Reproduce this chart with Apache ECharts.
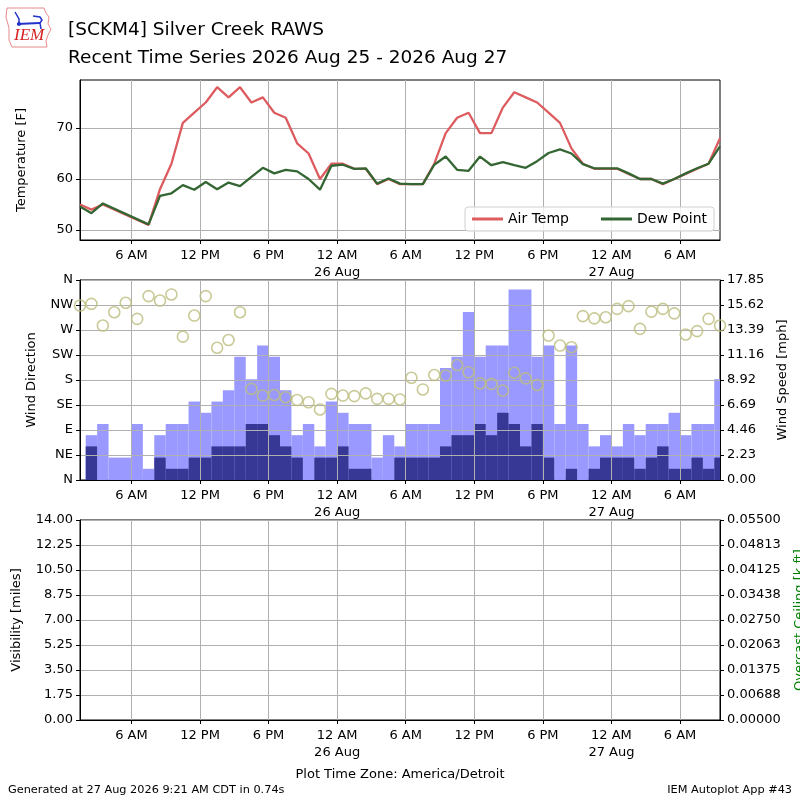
<!DOCTYPE html>
<html><head><meta charset="utf-8">
<script src="https://cdn.jsdelivr.net/npm/echarts@6/dist/echarts.min.js"></script>
<style>html,body{margin:0;padding:0;background:#fff}#c{width:800px;height:800px}</style>
</head><body><div id="c"></div>
<script>
// hours since 2026-08-25 00:00 (America/Detroit)
const obsHours = [1.5,2.5,3.5,4.5,5.5,6.5,7.5,8.5,9.5,10.5,11.5,12.5,13.5,14.5,15.5,16.5,17.5,18.5,19.5,20.5,
  21.5,22.5,23.5,24.5,25.5,26.5,27.5,28.5,29.5,30.5,31.5,32.5,33.5,34.5,35.5,36.5,37.5,38.5,39.5,40.5,
  41.5,42.5,43.5,44.5,45.5,46.5,47.5,48.5,49.5,50.5,51.5,52.5,53.5,54.5,55.5,56.5,57.5];
const airTemp = [55,54,55,null,null,null,51,58,63,71,73,75,78,76,78,75,76,73,72,67,
  65,60,63,63,62,62,59,60,59,59,59,63,69,72,73,69,69,74,77,76,
  75,73,71,66,63,62,62,62,61,60,60,59,60,61,62,63,68];
const dewPoint = [54.6,53.3,55.2,null,null,null,51.1,56.7,57.2,58.8,57.9,59.4,58.0,59.3,58.6,60.4,62.2,61.1,61.8,61.5,
  60.0,57.9,62.6,62.8,62.0,62.1,59.1,60.1,59.1,59.0,59.0,62.8,64.4,61.8,61.6,64.4,62.7,63.3,62.7,62.2,
  63.5,65.1,65.8,65.0,62.9,62.1,62.1,62.1,61.1,60.0,60.0,59.1,60.0,61.1,62.1,63.0,66.4];
const windDir = [314,317,278,302,319,290,331,323,334,258,296,331,238,252,302,164,152,153,149,144,
  140,127,155,152,151,156,146,146,145,184,163,189,188,207,194,174,173,161,193,183,
  171,260,242,239,295,291,293,308,313,272,303,308,300,262,268,290,278];
const windSpeed = [0,3,0,0,0,0,0,2,1,1,2,2,3,3,3,5,5,4,3,2,
  0,2,2,3,1,1,0,0,2,2,2,2,3,4,4,5,4,6,5,3,
  5,2,0,1,0,1,2,2,2,1,2,3,1,1,2,1,2];
const windGust = [0,4,5,2,2,5,1,4,5,5,7,6,7,8,11,9,12,11,8,4,
  5,3,7,6,5,5,2,4,3,5,5,5,10,11,15,11,12,12,17,17,
  11,12,5,12,5,3,4,3,5,4,5,5,6,4,5,5,9];
// no visibility / ceiling reports in this period
const visibility = obsHours.map(() => null);
const xTickHours = [6,12,18,24,30,36,42,48,54];
const xTickLabels = ['6 AM','12 PM','6 PM','12 AM\n26 Aug','6 AM','12 PM','6 PM','12 AM\n27 Aug','6 AM'];
const tempTicks = [50,60,70];
const dirTickLabels = ['N','NE','E','SE','S','SW','W','NW','N'];
const speedTickLabels = ['0.00','2.23','4.46','6.69','8.92','11.16','13.39','15.62','17.85'];
const visTickLabels = ['0.00','1.75','3.50','5.25','7.00','8.75','10.50','12.25','14.00'];
const ceilTickLabels = ['0.00000','0.00688','0.01375','0.02063','0.02750','0.03438','0.04125','0.04813','0.05500'];

const F = 'DejaVu Sans';
const GRIDC = '#b0b0b0';
const chart = echarts.init(document.getElementById('c'), null, {renderer:'canvas'});

function xAx(gi){
  return {type:'value', gridIndex:gi, min:1.5, max:57.5, z:3,
    axisLine:{show:true, onZero:false, lineStyle:{color:'#000', width:1}},
    axisTick:{show:true, customValues:xTickHours, length:4, lineStyle:{color:'#000'}},
    axisLabel:{customValues:xTickHours, formatter:v=>{const i=xTickHours.indexOf(v);return i>=0?xTickLabels[i]:'';},
      color:'#000', fontSize:13, fontFamily:F, margin:7, lineHeight:17},
    splitLine:{show:true, lineStyle:{color:GRIDC, width:1}}};
}
function yAx(o){
  return Object.assign({type:'value', z:3,
    axisLine:{show:true, onZero:false, lineStyle:{color:'#000', width:1}},
    axisTick:{show:true, length:4, lineStyle:{color:'#000'}},
    nameLocation:'middle', nameRotate:90,
    nameTextStyle:{color:'#000', fontSize:13, fontFamily:F}
  }, o);
}
function lbl(o){ return Object.assign({color:'#000', fontSize:13, fontFamily:F, margin:7}, o); }

function barItem(color){
  return function(params, api){
    const t = api.value(0), v = api.value(1);
    if (!v) return null;
    const p1 = api.coord([t-0.5, v]);
    const p0 = api.coord([t+0.5, 0]);
    const cs = params.coordSys;
    const r = echarts.graphic.clipRectByRect(
      {x:p1[0], y:p1[1], width:p0[0]-p1[0], height:p0[1]-p1[1]},
      {x:cs.x, y:cs.y, width:cs.width, height:cs.height});
    return r && {type:'rect', shape:r, style:{fill:color}};
  };
}
const pairs = arr => obsHours.map((t,i)=>[t, arr[i]]).filter(p=>p[1]!==null);
const gridBase = {left:80, width:640, show:true, borderColor:'#000', borderWidth:1, backgroundColor:'transparent',
  containLabel:false, outerBoundsMode:'none'};

const option = {
  animation:false,
  backgroundColor:'#fff',
  title:{text:'[SCKM4] Silver Creek RAWS\nRecent Time Series 2026 Aug 25 - 2026 Aug 27', left:68, top:16, padding:0,
    textStyle:{fontFamily:F, fontSize:18.5, fontWeight:'normal', color:'#000', lineHeight:28}},
  legend:{data:['Air Temp','Dew Point'], left:465, top:207, icon:'rect', itemWidth:31, itemHeight:3, itemGap:32,
    padding:[5,7], borderColor:'#d0d0d0', borderWidth:1, borderRadius:3, backgroundColor:'rgba(255,255,255,0.8)',
    textStyle:{fontFamily:F, fontSize:14, color:'#000'}},
  grid:[
    Object.assign({top:80, height:160}, gridBase),
    Object.assign({top:280, height:200}, gridBase),
    Object.assign({top:520, height:200}, gridBase)
  ],
  xAxis:[xAx(0), xAx(1), xAx(2)],
  yAxis:[
    yAx({gridIndex:0, min:48.04, max:79.41, name:'Temperature [F]', nameGap:52,
      axisTick:{show:true, customValues:tempTicks, length:4, lineStyle:{color:'#000'}},
      axisLabel:lbl({customValues:tempTicks}),
      splitLine:{show:true, lineStyle:{color:GRIDC, width:1}}}),
    yAx({gridIndex:1, min:0, max:360, interval:45, name:'Wind Direction', nameGap:42,
      axisLabel:lbl({formatter:v=>dirTickLabels[Math.round(v/45)]}),
      splitLine:{show:true, lineStyle:{color:GRIDC, width:1}}}),
    yAx({gridIndex:1, position:'right', min:0, max:17.85, interval:2.23125, name:'Wind Speed [mph]', nameGap:56,
      axisLabel:lbl({formatter:v=>speedTickLabels[Math.round(v/2.23125)]}),
      splitLine:{show:false}}),
    yAx({gridIndex:2, min:0, max:14, interval:1.75, name:'Visibility [miles]', nameGap:57,
      axisLabel:lbl({formatter:v=>visTickLabels[Math.round(v/1.75)]}),
      splitLine:{show:true, lineStyle:{color:GRIDC, width:1}}}),
    yAx({gridIndex:2, position:'right', min:0, max:0.055, interval:0.006875, name:'Overcast Ceiling [k ft]', nameGap:73,
      nameTextStyle:{color:'#008000', fontSize:13, fontFamily:F},
      axisLabel:lbl({formatter:v=>ceilTickLabels[Math.round(v/0.006875)]}),
      splitLine:{show:false}})
  ],
  series:[
    {name:'Air Temp', type:'line', xAxisIndex:0, yAxisIndex:0, data:pairs(airTemp), showSymbol:false, connectNulls:true,
      lineStyle:{color:'#dc5c60', width:2.3}, itemStyle:{color:'#dc5c60'}, z:5},
    {name:'Dew Point', type:'line', xAxisIndex:0, yAxisIndex:0, data:pairs(dewPoint), showSymbol:false, connectNulls:true,
      lineStyle:{color:'#336633', width:2.3}, itemStyle:{color:'#336633'}, z:6},
    {name:'Wind Gust', type:'custom', xAxisIndex:1, yAxisIndex:2, data:pairs(windGust), renderItem:barItem('#9999ff'),
      encode:{x:0, y:1}, z:1},
    {name:'Wind Speed', type:'custom', xAxisIndex:1, yAxisIndex:2, data:pairs(windSpeed), renderItem:barItem('#373796'),
      encode:{x:0, y:1}, z:2},
    {name:'Wind Direction', type:'scatter', xAxisIndex:1, yAxisIndex:1, data:pairs(windDir), symbol:'circle', symbolSize:11,
      itemStyle:{color:'rgba(0,0,0,0)', borderColor:'#bdbd7e', borderWidth:1.6}, z:6},
    {name:'Visibility', type:'line', xAxisIndex:2, yAxisIndex:3, data:obsHours.map((t,i)=>[t, visibility[i]]), showSymbol:false}
  ],
  graphic:[
    {type:'polygon', shape:{points:[[7,8],[44,8],[46,13],[49,17],[48,24],[51,29],[48,35],[46,41],[47,47],[12,47],[9,40],[9,28],[6,17]]},
      style:{fill:'none', stroke:'#e88a8a', lineWidth:1}},
    {type:'text', left:14, top:27, style:{text:'IEM', font:'italic 17px "Liberation Serif"', fill:'#d42020'}},
    {type:'polyline', shape:{points:[[17,24],[40,23]]}, style:{stroke:'#2233cc', lineWidth:2}},
    {type:'polyline', shape:{points:[[15,12],[19,19],[19,24]]}, style:{stroke:'#2233cc', lineWidth:1.5}},
    {type:'polyline', shape:{points:[[33,16],[40,17],[42,20],[40,23],[41,29]]}, style:{stroke:'#2233cc', lineWidth:1.5}},
    {type:'circle', shape:{cx:19, cy:24, r:2}, style:{fill:'#2233cc'}},
    {type:'text', x:8, y:790, style:{text:'Generated at 27 Aug 2026 9:21 AM CDT in 0.74s', font:'11.3px "DejaVu Sans"', fill:'#000', verticalAlign:'middle'}},
    {type:'text', x:792, y:790, style:{text:'IEM Autoplot App #43', font:'11.3px "DejaVu Sans"', fill:'#000', textAlign:'right', verticalAlign:'middle'}},
    {type:'text', x:400, y:775, style:{text:'Plot Time Zone: America/Detroit', font:'13px "DejaVu Sans"', fill:'#000', textAlign:'center', verticalAlign:'middle'}}
  ]
};
chart.setOption(option);
</script></body></html>
